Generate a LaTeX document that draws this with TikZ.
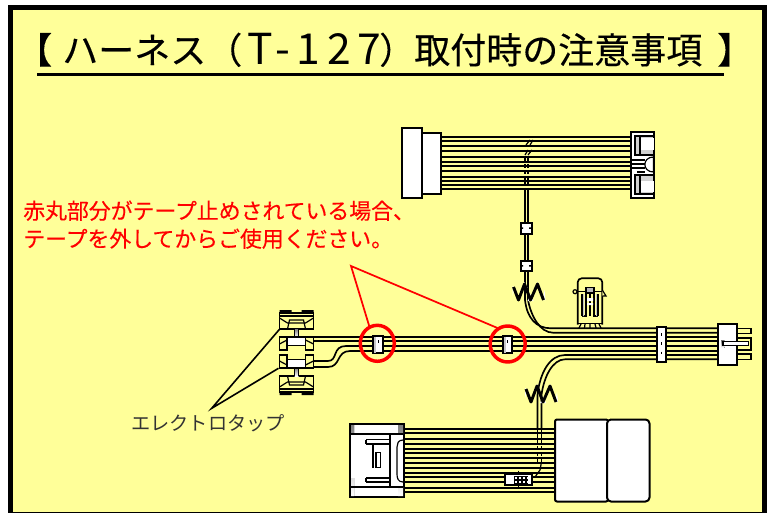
\documentclass[tikz,border=0pt]{standalone}
\usepackage{fontspec}
\newfontfamily\jp{Noto Sans CJK JP}
\newfontfamily\jph[FakeBold=0.25]{Noto Sans CJK JP}
\newfontfamily\jpw[LetterSpace=15]{Noto Sans CJK JP}
\definecolor{bgy}{HTML}{FFFF99}
\definecolor{shade}{HTML}{8C8C8C}
\definecolor{lab}{HTML}{333333}
\tikzset{
  wire/.style={line width=1.25pt,black},
  thin part/.style={line width=0.9pt,black},
  body/.style={line width=1.5pt,draw=black,fill=white},
  crossing/.style={line width=1pt,black,dash pattern=on 3pt off 1.5pt},
  redlead/.style={line width=1.3pt,red},
  redring/.style={line width=2.6pt,draw=red},
  blacklead/.style={line width=1.2pt,black},
  titletext/.style={font=\jph\fontsize{27pt}{27pt}\selectfont,anchor=base west,inner sep=0pt},
  redtext/.style={font=\jph\fontsize{16.4pt}{16.4pt}\selectfont,text=red,anchor=base west,inner sep=0pt},
}
\newcommand{\squiggle}[2]{%
  \begin{scope}[shift={(#1,#2)}]
    \fill[white] (-1,4) -- (-1,14) -- (1,6) -- cycle (8,6) -- (11,0) -- (14,6) -- cycle
       (14,19) -- (17,12) -- (20,19) -- cycle (21,6) -- (24,0) -- (27,6) -- cycle (29,18) -- (32,18) -- (31,8) -- cycle;
    \draw[line width=2.2pt,black,line join=round] (0,5) -- (5,18) -- (11,2) -- (17,18) -- (24,2) -- (30,18);
  \end{scope}}
\begin{document}
\begin{tikzpicture}[x=0.75pt,y=-0.75pt]
\useasboundingbox (0,0) rectangle (770,513);
\fill[white] (0,0) rectangle (770,513);
\fill[black] (7.5,5) rectangle (767,513);
\fill[bgy] (13,10.5) rectangle (762,511.5);

% title
\node[titletext] (t1) at (16,63.5) {【};
\node[titletext] (t2) at (62,63.5) {ハーネス};
\node[titletext] (t3) at (206,63.5) {（};
\node[titletext,font=\jpw\fontsize{32pt}{32pt}\selectfont] (t4) at (247,65) {T-127};
\node[titletext] (t5) at (379,63.5) {）};
\node[titletext] (t6) at (414,63.5) {取付時の注意事項};
\node[titletext] (t7) at (717,63.5) {】};
\draw[line width=2.7pt,black] (37,74.5) -- (724,74.5);

% top bundle
\foreach \y in {136.7,140.7,146,150.7,156.7,161.7,166,171,176.7,180.7,184.7,189}
  \draw[wire] (441,\y) -- (631,\y);
\draw[crossing] (525,158) -- (525,190);
\draw[crossing] (528,158) -- (528,190);
\draw[thin part] (526,145) -- (530,140) (530,145) -- (533,140) (525,155) -- (528,150) (528,155) -- (532,150);
\draw[wire] (525,189) -- (525,262) (528,189) -- (528,262);
\draw[body] (401.5,128) rectangle (422,198);
\draw[body] (422,133) rectangle (441,194);
% top right connector
\draw[body] (631,132.5) rectangle (654,198);
\draw[thin part,fill=shade!40] (635,136) rectangle (654,155);
\fill[white] (640,138) rectangle (653.5,150);
\draw[thin part] (640,136) -- (640,155);
\draw[thin part,fill=shade!40] (635,175) rectangle (654,194);
\fill[white] (640,181) rectangle (653.5,192);
\draw[thin part] (640,175) -- (640,194);
\draw[thin part] (632,160) -- (645,160) (632,164) -- (645,164) (632,168) -- (645,168) (637,172) -- (645,172);
\draw[thin part,fill=white] (653.5,157) .. controls (642,157) and (642,172) .. (653.5,172) -- cycle;
% top branch connectors
\draw[body] (520.5,223) rectangle (531.5,234);
\draw[body] (520.5,261) rectangle (531.5,271);
\fill[black] (520.5,227.5) rectangle (523,229) (529,227.5) rectangle (531.5,229)
   (520.5,265) rectangle (523,266.5) (529,265) rectangle (531.5,266.5);

% trunk
\foreach \y in {337.3,341,346,351}
  \draw[wire] (455,\y) -- (718,\y);
\draw[wire] (313.5,337.3) -- (455,337.3) (313.5,341) -- (455,341);
\draw[wire] (313.5,361) -- (328,361) .. controls (338,361) and (332,346) .. (346,346) -- (455,346);
\draw[wire] (313.5,367) -- (328,367) .. controls (341,367) and (336,351) .. (350,351) -- (455,351);
% upper and lower branches
\draw[wire] (525,271) -- (525,300) .. controls (527,318) and (536,328.3) .. (551,328.3) -- (718,328.3);
\draw[wire] (528,271) -- (528,300) .. controls (531,316) and (540,332.7) .. (553,332.7) -- (718,332.7);
\draw[wire] (718,355) -- (565,355) .. controls (550,355) and (540,372) .. (537.5,395) -- (537.5,428);
\draw[wire] (718,359.3) -- (565,359.3) .. controls (553,359.3) and (544,376) .. (541.5,395) -- (541.5,428);
\squiggle{513.5}{282}
\squiggle{526}{384}

% electrotaps
\foreach \ys/\sgn in {310/1,395/-1}{
  \begin{scope}[shift={(279.5,\ys)},yscale=\sgn]
    \fill[black] (0,0) rectangle (12,3) (22,0) rectangle (34,3);
    \draw[thin part,fill=bgy] (0,3) rectangle (34,19);
    \draw[thin part,fill=bgy] (0,6) -- (34,6);
    \draw[thin part] (0,8) -- (8,13) -- (26,13) -- (34,8);
    \draw[thin part] (8,19) -- (10,10) -- (24,10) -- (26,19);
    \fill[shade] (15,19) rectangle (19,27);
    \draw[thin part] (15,19) -- (15,27) (19,19) -- (19,27);
    \draw[thin part,fill=bgy] (0,27) rectangle (7.5,40);
    \draw[thin part,fill=bgy] (26,27) rectangle (34,40);
    \draw[thin part,fill=white] (7.5,27) rectangle (26,35.5);
    \draw[thin part] (0,34) -- (7.5,30) (26,30) -- (34,34);
  \end{scope}
}

% tape clamps
\foreach \n/\xa/\xb in {a/373.3/383.3,b/503.3/512.3}{
  \draw[body] (\xa,336) rectangle (\xb,353.3);
  \fill[shade!50] (\xa+0.8,337) rectangle (\xa+2.4,352.5);
}
\draw[black,line width=0.6pt,dash pattern=on 2pt off 7pt] (378.3,340) -- (378.3,353);
\draw[black,line width=0.6pt,dash pattern=on 2pt off 7pt] (507.8,340) -- (507.8,353);
% red rings
\draw[redring] (377.3,343.3) ellipse (17 and 18);
\draw[redring] (507.7,344) ellipse (17.5 and 18);
% red leaders
\coordinate (redapex) at (351,266);
\coordinate (ra) at (369.5,327);
\coordinate (rb) at (497.5,328);
\draw[redlead] (ra) -- (redapex) -- (rb);
% red text
\node[redtext] (r1) at (23,219) {赤丸部分がテープ止めされている場合、};
\node[redtext] (r2) at (23,247) {テープを外してからご使用ください。};

% trunk clamp
\draw[body] (657,327) rectangle (666,361.7);
\draw[black,line width=0.6pt,dash pattern=on 2pt off 5pt] (661.5,333) -- (661.5,360);

% right connector
\draw[thin part,fill=bgy] (736,328.5) -- (751,328.5) -- (751,333.5) -- (736,333.5);
\draw[thin part,fill=bgy] (736,338) -- (751,338) -- (751,350) -- (736,350);
\draw[thin part,fill=bgy] (736,354) -- (751,354) -- (751,359.5) -- (736,359.5);
\draw[body] (718,324) rectangle (737,364.5);
\fill[shade] (721,340.7) rectangle (724.5,347.5);
\draw[thin part,fill=white] (723,341.7) rectangle (748.5,345.5);

% relay
\draw[wire,fill=bgy,rounded corners=3pt] (577.7,324.5) -- (577.7,278.3) -- (602.3,278.3) -- (602.3,324.5);
\draw[thin part] (577.7,291.7) -- (602.3,291.7);
\draw[thin part] (577.7,323.5) -- (602.3,323.5);
\draw[thin part,fill=bgy] (575,291.7) circle (2);
\draw[thin part,fill=bgy] (602.3,290) -- (606,296) -- (602.3,296);
\draw[thin part,fill=shade!60] (586,287.5) rectangle (594,293);
\draw[thin part] (586,293) -- (586,316) -- (582,316) (594,293) -- (594,316) -- (598,316);
\draw[thin part] (590,293) -- (590,316);
\fill[shade!50] (582.5,294) rectangle (584,316) (596,294) rectangle (597.5,316);
\draw[thin part] (582,294) -- (582,316) (598,294) -- (598,316);
\fill[white] (587,298) rectangle (593,301) (587,303) rectangle (593,305);
\draw[thin part] (581,324) -- (579,328) (585,324) -- (584.5,328) (590,324) -- (590,328) (595,324) -- (596,328) (599,324) -- (601,328);

% bottom bundle
\foreach \y in {429.3,433.3,439,444.3,449,453.3,458.3,462.7,468.3,473.3,477.3,481.7,488.3,491.7}
  \draw[wire] (403,\y) -- (556,\y);
\draw[crossing] (537.5,428) -- (537.5,462);
\draw[crossing] (541.5,428) -- (541.5,462);
\draw[thin part] (541.5,462) -- (540,470) -- (535,477);
\draw[thin part,densely dotted] (518.7,468) -- (518.7,491);
% small bottom connector
\draw[line width=1.3pt,draw=black,fill=white] (505,474.5) rectangle (532,485);
\fill[black] (514,476) rectangle (528,484);
\foreach \px in {507,511,515,519,523,527}
  \foreach \py in {477,480.5}
    \fill[white] (\px,\py) rectangle ++(2,2);
% bottom boxes
\draw[body,rounded corners=1.5pt] (555,419.5) rectangle (608,501.5);
\draw[body,rounded corners=3pt] (607,419.5) rectangle (649.5,501.5);
% bottom left connector
\draw[body] (350,424) rectangle (404,497);
\fill[shade] (351,425) rectangle (354,434) (351,478) rectangle (354,496) (398,425) rectangle (403,434) (398,487) rectangle (403,496);
\draw[thin part] (350,434) -- (398,434) (350,487) -- (398,487);
\draw[thin part] (390,434) -- (390,487);
\draw[thin part] (366,439.5) -- (390,439.5) (366,444) -- (390,444) (366,439.5) -- (366,444);
\draw[thin part] (366,478) -- (390,478) (366,482) -- (390,482) (366,478) -- (366,482);
\draw[thin part] (373,445) -- (373,468);
\draw[thin part,fill=white] (376,452.5) rectangle (380.5,467.5);
\draw[thin part] (398,434) -- (403,434) (398,487) -- (403,487);
\draw[thin part] (403,440) .. controls (398,440) and (397,444) .. (397,447) -- (397,474) .. controls (397,478) and (398,482) .. (403,482);

% electrotap label and leaders
\node[font=\jp\fontsize{14.4pt}{14.4pt}\selectfont,text=lab,anchor=base west,inner sep=0pt] (lbl) at (131,430) {エレクトロタップ};
\coordinate (bapex) at (211.7,408.3);
\coordinate (ta) at (279.5,329.3);
\coordinate (tb) at (278.5,368.3);
\draw[blacklead] (ta) -- (bapex) -- (tb);
\end{tikzpicture}
\end{document}
